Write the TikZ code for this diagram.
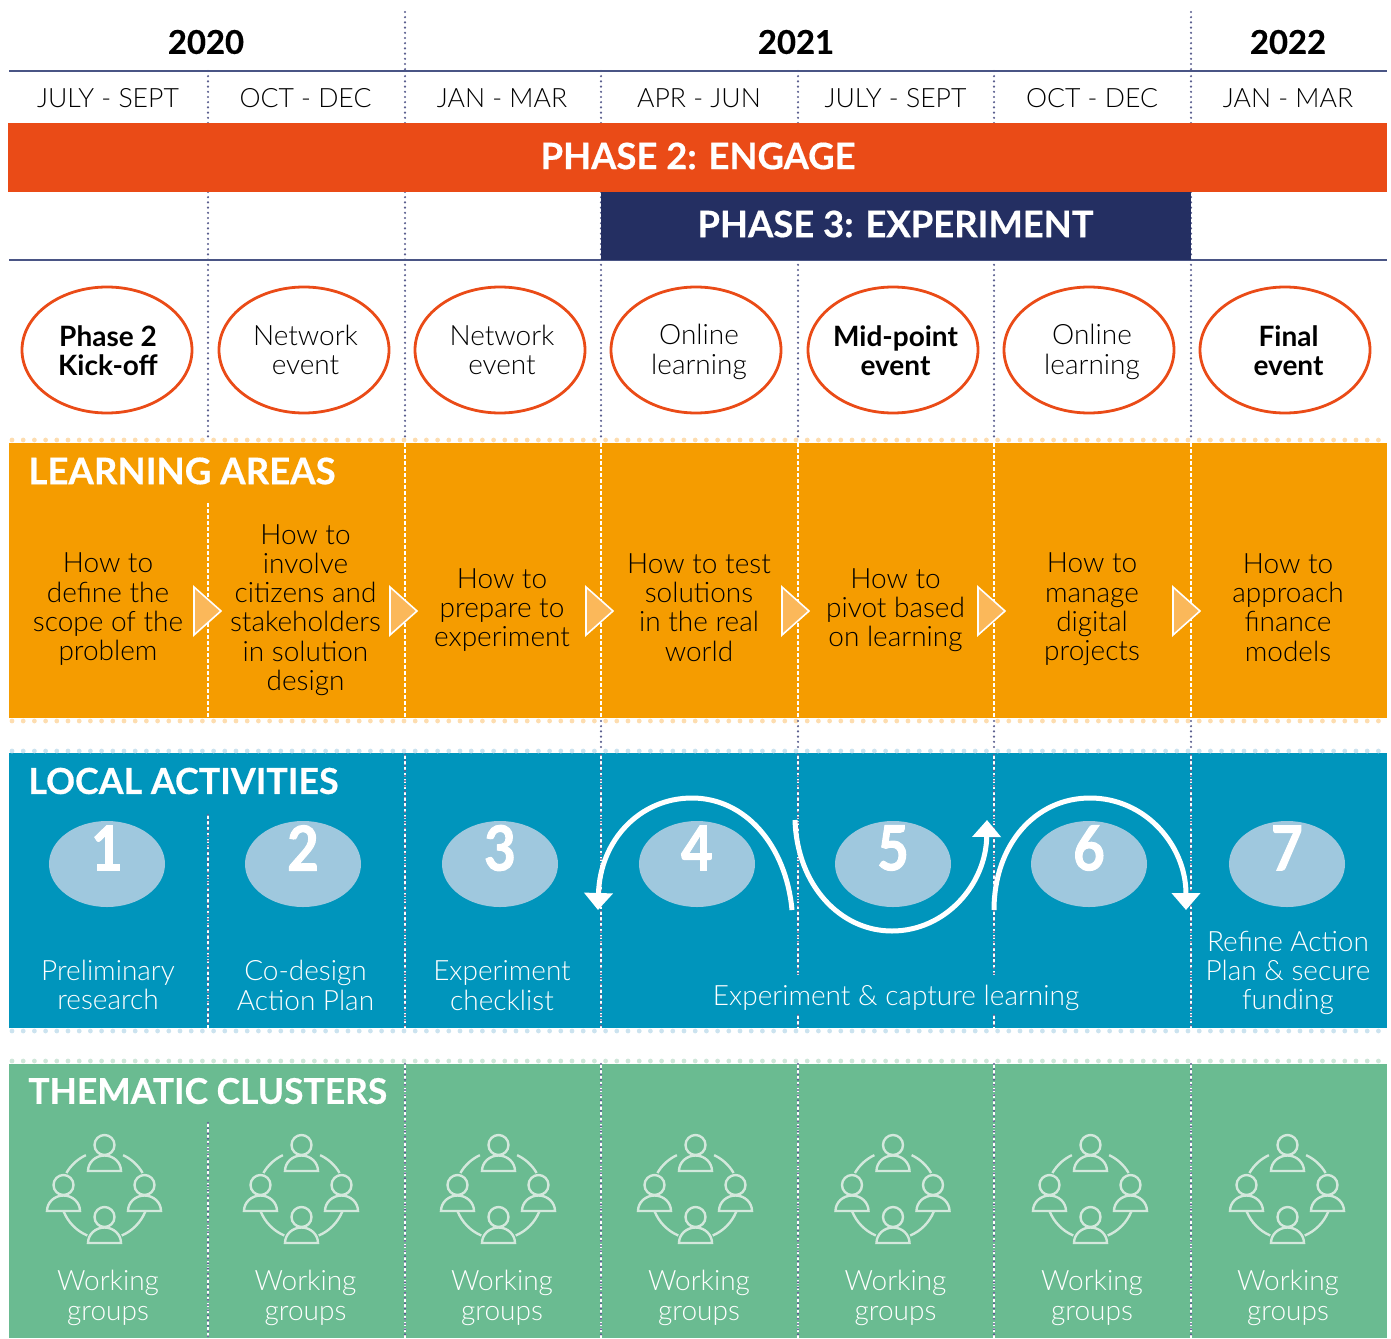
\documentclass[tikz,border=0pt]{standalone}
\usepackage{fontspec}
\setmainfont{Lato Light}[BoldFont=Lato Bold]
\newfontfamily\heavyfont{Lato Bold}[FakeBold=0.5]
\newfontfamily\digitfont{Lato Bold}[FakeBold=1.6,FakeStretch=0.88]
\usetikzlibrary{arrows.meta,shapes.geometric}
\definecolor{redbar}{HTML}{EA4B17}
\definecolor{navybar}{HTML}{242F62}
\definecolor{rule}{HTML}{4A5585}
\definecolor{divline}{HTML}{5B5F8F}
\definecolor{orangeband}{HTML}{F59C00}
\definecolor{blueband}{HTML}{0095BC}
\definecolor{greenband}{HTML}{6ABB91}
\definecolor{orangedot}{HTML}{FDDDB0}
\definecolor{bluedot}{HTML}{CCE3EF}
\definecolor{greendot}{HTML}{CFE7DA}
\definecolor{chevron}{HTML}{FBB85A}
\definecolor{blob}{HTML}{9FC8DE}
\definecolor{icon}{HTML}{D3E8DC}
\tikzset{
  txt/.style={inner sep=0pt, align=center, font=\fontsize{14}{14.65}\selectfont},
  month/.style={inner sep=0pt, font=\fontsize{13.3}{14.65}\selectfont},
  year/.style={inner sep=0pt, font=\fontsize{16.4}{20}\heavyfont},
  heading/.style={inner sep=0pt, anchor=west, text=white, font=\fontsize{17.9}{20}\heavyfont},
  phase/.style={inner sep=0pt, text=white, font=\fontsize{18.2}{20}\heavyfont},
  event/.style={draw=redbar, line width=1.4pt, fill=white, ellipse, minimum width=85pt, minimum height=63pt},
  blobby/.style={ellipse, fill=blob, minimum width=58pt, minimum height=43pt, inner sep=0pt},
  digit/.style={inner sep=0pt, text=white, font=\fontsize{31}{31}\digitfont},
  flow/.style={draw=white, line width=2.5pt, -{Triangle[width=14pt,length=8.5pt]}},
  divider/.style={draw=divline, line width=1.2pt, line cap=round, dash pattern=on 0pt off 2.6pt},
  whitediv/.style={draw=white, line width=1.2pt, dash pattern=on 2pt off 1pt},
  dotrow/.style={line width=2.4pt, line cap=round, dash pattern=on 0pt off 5.6pt},
  wgroup/.pic={
    \foreach \hx/\hy in {0/0,-41/40,40/40,0/72} {
      \draw[icon, line width=1.2pt] (\hx,\hy) circle (10);
      \draw[icon, line width=1.2pt] (\hx-16.5,\hy+26) arc (180:360:16.5 and 15.5) -- cycle;
    }
    \draw[icon, line width=1.2pt] (0,50) ++(-115:44) arc (-115:-150:44);
    \draw[icon, line width=1.2pt] (0,50) ++(-65:44) arc (-65:-30:44);
    \draw[icon, line width=1.2pt] (0,50) ++(158:44) arc (158:113:44);
    \draw[icon, line width=1.2pt] (0,50) ++(22:44) arc (22:67:44);
  }
}
\begin{document}
\begin{tikzpicture}[x=0.5pt,y=-0.5pt]
  \useasboundingbox (0,0) rectangle (1391,1338);

  % bands
  \fill[orangeband] (9,443) rectangle (1387,718);
  \fill[blueband] (9,753) rectangle (1387,1028);
  \fill[greenband] (9,1064) rectangle (1387,1338);
  \draw[dotrow, orangedot] (12,440) -- (1387,440);
  \draw[dotrow, orangedot] (12,721) -- (1387,721);
  \draw[dotrow, bluedot] (12,751) -- (1387,751);
  \draw[dotrow, bluedot] (12,1031) -- (1387,1031);
  \draw[dotrow, greendot] (12,1061) -- (1387,1061);

  % column lines
  \foreach \i in {208,405,601,798,994,1191} {
    \draw[divider] (\i,71) -- (\i,123);
    \draw[divider] (\i,192) -- (\i,440);
    \draw[whitediv] (\i,443) -- (\i,718);
  }
  \foreach \i in {405,1191} {
    \draw[divider] (\i,12) -- (\i,71);
  }
  \foreach \i in {601,798,994,1191} {
    \draw[divider] (\i,721) -- (\i,750);
  }
  \fill[orangeband] (204,443) rectangle (212,502);
  \foreach \i in {405,601,1191} {
    \draw[whitediv] (\i,755) -- (\i,1028);
    \draw[divider] (\i,755) -- (\i,1028);
  }
  \foreach \i in {798,994} {
    \draw[whitediv] (\i,755) -- (\i,975);
    \draw[divider] (\i,755) -- (\i,975);
    \draw[whitediv] (\i,1015) -- (\i,1028);
    \draw[divider] (\i,1015) -- (\i,1028);
  }
  \draw[whitediv] (208,815) -- (208,1028);
  \draw[divider] (208,815) -- (208,1028);
  \foreach \i in {405,601,798,994,1191} {
    \draw[whitediv] (\i,1064) -- (\i,1338);
    \draw[divider] (\i,1064) -- (\i,1338);
  }
  \draw[whitediv] (208,1123) -- (208,1338);
  \draw[divider] (208,1123) -- (208,1338);

  % header
  \draw[rule, line width=1pt] (9,71) -- (1387,71);
  \draw[rule, line width=1pt] (9,260) -- (1387,260);
  \node[year] (y20) at (206,42) {2020};
  \node[year] (y21) at (796,42) {2021};
  \node[year] (y22) at (1288,42) {2022};
  \foreach \x/\n/\t in {108/1/JULY - SEPT,305.5/2/OCT - DEC,502/3/JAN - MAR,699/4/APR - JUN,895.5/5/JULY - SEPT,1092/6/OCT - DEC,1288/7/JAN - MAR} {
    \node[month] (m\n) at (\x,98) {\t};
  }
  \fill[redbar] (8,123) rectangle (1387,192);
  \fill[navybar] (601,192) rectangle (1191,260);
  \node[phase] (ph2) at (698,156) {PHASE 2: ENGAGE};
  \node[phase] (ph3) at (895.5,224) {PHASE 3: EXPERIMENT};

  % events
  \foreach \x/\n/\tx/\ty/\t in {107/1/108/350.5/{\bfseries Phase 2\\\bfseries Kick-off},304/2/305.5/350/{Network\\event},500/3/502/350/{Network\\event},696/4/699/352/{Online\\learning},893/5/895.5/350.5/{\bfseries Mid-point\\\bfseries event},1089/6/1092/352/{Online\\learning},1285/7/1288.5/350.5/{\bfseries Final\\\bfseries event}} {
    \node[event] (ev\n) at (\x,350) {};
    \node[txt] (evt\n) at (\tx,\ty) {\t};
  }

  % learning areas
  \node[heading, font=\fontsize{18.3}{20}\heavyfont] (la) at (28,471) {LEARNING AREAS};
  \foreach \x/\n/\y/\t in {108/1/609.5/{How to\\define the\\scope of the\\problem},305.5/2/610/{How to\\involve\\citizens and\\stakeholders\\in solution\\design},502/3/610/{How to\\prepare to\\experiment},699/4/607.5/{How to test\\solutions\\in the real\\world},895.5/5/610/{How to\\pivot based\\on learning},1092/6/609.5/{How to\\manage\\digital\\projects},1288/7/607.5/{How to\\approach\\finance\\models}} {
    \node[txt] (area\n) at (\x,\y) {\t};
  }
  \foreach \x in {194,390,586,782,978,1173} {
    \draw[draw=white, line width=0.8pt, fill=chevron] (\x,587) -- (\x+27,611) -- (\x,635) -- cycle;
  }

  % local activities
  \node[heading] (lo) at (28,781) {LOCAL ACTIVITIES};
  \foreach \x/\n in {107/1,303/2,500/3,697/4,893/5,1089/6,1287/7} {
    \node[blobby] (act\n) at (\x,864) {};
    \node[digit] (num\n) at (\x,848) {\n};
  }
  \foreach \x/\n/\t/\y in {108/1/{Preliminary\\research}/985,305.5/2/{Co-design\\Action Plan}/985.5,502/3/{Experiment\\checklist}/985.5,1288/7/{Refine Action\\Plan \& secure\\funding}/973} {
    \node[txt, text=white] (lab\n) at (\x,\y) {\t};
  }
  \node[txt, text=white] (labx) at (896,998) {Experiment \& capture learning};
  \coordinate (a4s) at (792,910);
  \coordinate (a4e) at (598,910);
  \coordinate (a5s) at (795,820);
  \coordinate (a5e) at (987,820);
  \coordinate (a6s) at (994,910);
  \coordinate (a6e) at (1186,910);
  \draw[flow] (a4s) .. controls (786,845) and (745,798) .. (692,798) .. controls (640,798) and (600,840) .. (a4e);
  \draw[flow] (a5s) .. controls (797,885) and (840,931) .. (892,931) .. controls (945,931) and (986,885) .. (a5e);
  \draw[flow] (a6s) .. controls (994,845) and (1035,798) .. (1090,798) .. controls (1145,798) and (1186,845) .. (a6e);

  % thematic clusters
  \node[heading, font=\fontsize{17.7}{20}\heavyfont] (tc) at (28,1091) {THEMATIC CLUSTERS};
  \foreach \x/\n in {104.5/1,301.5/2,498.5/3,695.5/4,893/5,1090.5/6,1287.5/7} {
    \pic at (\x,1145) {wgroup};
  }
  \foreach \x/\n in {108/1,305.5/2,502/3,699/4,895.5/5,1092/6,1288/7} {
    \node[txt, text=white] (wg\n) at (\x,1298) {Working\\groups};
  }
\end{tikzpicture}
\end{document}
